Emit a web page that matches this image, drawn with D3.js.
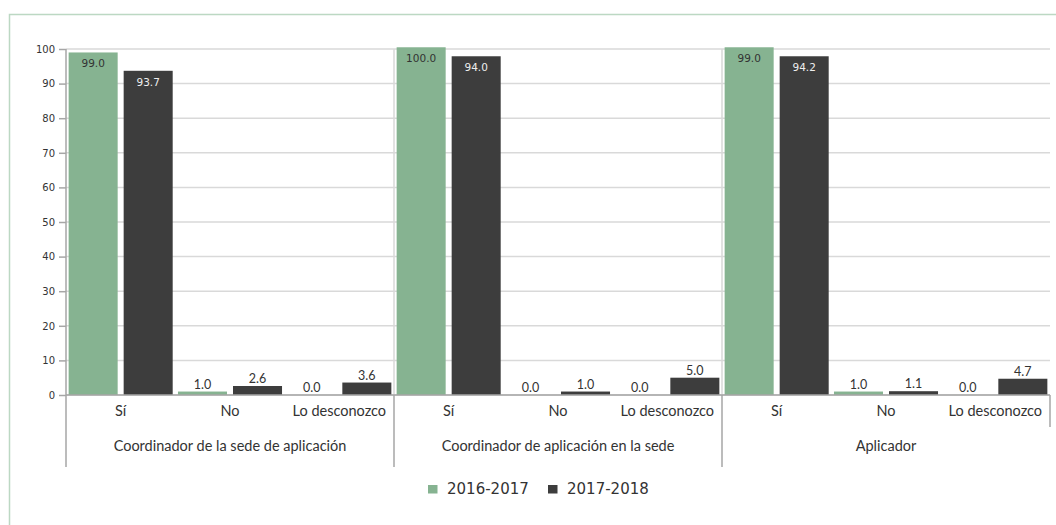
<!DOCTYPE html>
<html>
<head>
<meta charset="utf-8">
<script src="https://cdn.jsdelivr.net/npm/d3@7"></script>
<style>
  body { margin: 0; background: #fff; }
  svg { display: block; }
</style>
</head>
<body>
<svg id="chart"></svg>
<script>
// data
const groups = ["Coordinador de la sede de aplicación", "Coordinador de aplicación en la sede", "Aplicador"];
const categories = ["Sí", "No", "Lo desconozco"];
const seriesNames = ["2016-2017", "2017-2018"];
// bar heights as drawn (group -> category)
const values2016 = [[99.0, 1.0, 0.0], [100.5, 0.0, 0.0], [100.5, 1.0, 0.0]];
const values2018 = [[93.7, 2.6, 3.6], [97.9, 1.0, 5.0], [97.9, 1.1, 4.7]];
// printed labels
const labels2016 = [["99.0", "1.0", "0.0"], ["100.0", "0.0", "0.0"], ["99.0", "1.0", "0.0"]];
const labels2018 = [["93.7", "2.6", "3.6"], ["94.0", "1.0", "5.0"], ["94.2", "1.1", "4.7"]];
const yTicks = [0, 10, 20, 30, 40, 50, 60, 70, 80, 90, 100];

const colors = ["#86b391", "#3d3d3d"];

const width = 1056, height = 525;
const margin = { top: 49, right: 6, bottom: 130, left: 66 };
const plotW = width - margin.left - margin.right;
const plotH = height - margin.top - margin.bottom;

const svg = d3.select("#chart").attr("width", width).attr("height", height);

// frame
svg.append("path")
    .attr("d", `M9.5,${height + 2} V14.5 H${width + 2}`)
    .attr("fill", "none")
    .attr("stroke", "#bcd8c3")
    .attr("stroke-width", 1.5);

const g = svg.append("g").attr("transform", `translate(${margin.left},${margin.top})`);

const x0 = d3.scaleBand().domain(groups).range([0, plotW]);
const x1 = d3.scaleBand().domain(categories).range([0, x0.bandwidth()]);
const x2 = d3.scaleBand().domain(seriesNames).range([0, x1.bandwidth()])
    .paddingInner(0.109).paddingOuter(0.048);
const y = d3.scaleLinear().domain([0, 100]).range([plotH, 0]);

// gridlines
g.append("g").selectAll("line")
    .data(yTicks)
    .join("line")
    .attr("x1", 0).attr("x2", plotW)
    .attr("y1", d => y(d)).attr("y2", d => y(d))
    .attr("stroke", "#d9d9d9")
    .attr("stroke-width", 1.5);

// group separators inside plot
g.append("g").selectAll("line")
    .data(groups.slice(1))
    .join("line")
    .attr("x1", d => x0(d)).attr("x2", d => x0(d))
    .attr("y1", 0).attr("y2", plotH)
    .attr("stroke", "#d9d9d9")
    .attr("stroke-width", 1.5);

// y axis
const yAxis = g.append("g")
    .call(d3.axisLeft(y).tickValues(yTicks).tickSize(7).tickPadding(4));
yAxis.select(".domain").remove();
yAxis.selectAll(".tick line").attr("stroke", "#a6a6a6").attr("stroke-width", 1.5);
yAxis.selectAll("text")
    .attr("font-family", "DejaVu Sans")
    .attr("font-size", 10)
    .attr("fill", "#333");

// bars
const rows = [];
groups.forEach((grp, gi) => {
    categories.forEach((cat, ci) => {
        rows.push({ grp, cat, s: 0, v: values2016[gi][ci], label: labels2016[gi][ci] });
        rows.push({ grp, cat, s: 1, v: values2018[gi][ci], label: labels2018[gi][ci] });
    });
});

const bx = d => x0(d.grp) + x1(d.cat) + x2(seriesNames[d.s]);

g.append("g").selectAll("rect")
    .data(rows)
    .join("rect")
    .attr("x", bx)
    .attr("y", d => y(d.v))
    .attr("width", x2.bandwidth())
    .attr("height", d => plotH - y(d.v))
    .attr("fill", d => colors[d.s]);

// value labels
g.append("g").selectAll("text")
    .data(rows)
    .join("text")
    .attr("x", d => bx(d) + x2.bandwidth() / 2)
    .attr("y", d => d.v > 50 ? y(d.v) + 15 : y(d.v) - 3)
    .attr("text-anchor", "middle")
    .attr("font-family", d => d.v > 50 ? "DejaVu Sans" : "Lato")
    .attr("font-size", d => d.v > 50 ? 10.5 : 12.5)
    .attr("fill", d => d.v > 50 && d.s === 1 ? "#eeeeee" : "#333")
    .text(d => d.label);

// x axis baseline and left axis line
g.append("line")
    .attr("x1", 0).attr("x2", plotW)
    .attr("y1", plotH).attr("y2", plotH)
    .attr("stroke", "#a6a6a6").attr("stroke-width", 1.5);

g.append("line")
    .attr("x1", 0).attr("x2", 0)
    .attr("y1", 0).attr("y2", plotH + 72)
    .attr("stroke", "#a6a6a6").attr("stroke-width", 1.5);

// separators below axis
g.append("g").selectAll("line")
    .data(groups)
    .join("line")
    .attr("x1", (d, i) => i < groups.length - 1 ? x0(d) + x0.bandwidth() : plotW)
    .attr("x2", (d, i) => i < groups.length - 1 ? x0(d) + x0.bandwidth() : plotW)
    .attr("y1", plotH)
    .attr("y2", (d, i) => i < groups.length - 1 ? plotH + 72 : plotH + 32)
    .attr("stroke", "#a6a6a6").attr("stroke-width", 1.5);

// category labels
const catRows = [];
groups.forEach(grp => categories.forEach(cat => catRows.push({ grp, cat })));
g.append("g").selectAll("text")
    .data(catRows)
    .join("text")
    .attr("x", d => x0(d.grp) + x1(d.cat) + x1.bandwidth() / 2)
    .attr("y", plotH + 21)
    .attr("text-anchor", "middle")
    .attr("font-family", "Lato")
    .attr("font-size", 14.5)
    .attr("fill", "#333")
    .text(d => d.cat);

// group labels
g.append("g").selectAll("text")
    .data(groups)
    .join("text")
    .attr("x", d => x0(d) + x0.bandwidth() / 2)
    .attr("y", plotH + 56)
    .attr("text-anchor", "middle")
    .attr("font-family", "Lato")
    .attr("font-size", 14.5)
    .attr("fill", "#333")
    .text(d => d);

// legend
const legend = svg.append("g").attr("transform", "translate(428,485)");
const legendX = [0, 120];
seriesNames.forEach((s, i) => {
    legend.append("rect")
        .attr("x", legendX[i]).attr("y", 0)
        .attr("width", 9.5).attr("height", 8.5)
        .attr("fill", colors[i]);
    legend.append("text")
        .attr("x", legendX[i] + 19).attr("y", 9)
        .attr("font-family", "DejaVu Sans")
        .attr("font-size", 15)
        .attr("fill", "#333")
        .text(s);
});
</script>
</body>
</html>
